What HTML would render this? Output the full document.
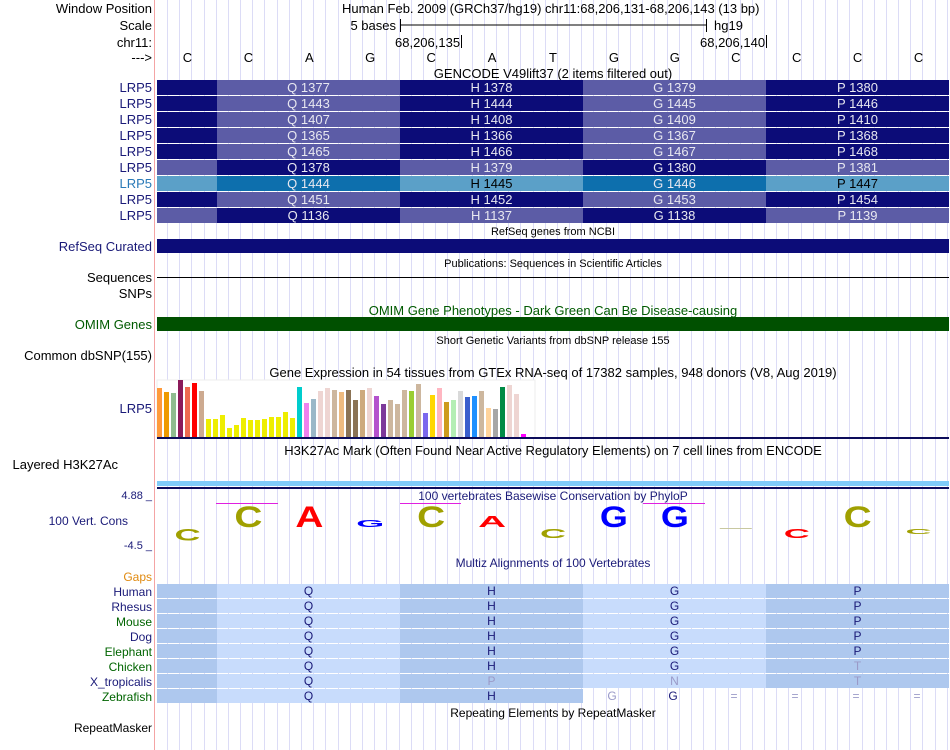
<!DOCTYPE html>
<html><head><meta charset="utf-8"><style>
body{margin:0;background:#fff;}
svg{display:block;font-family:"Liberation Sans",sans-serif;}
</style></head><body>
<svg id="s" width="950" height="750">
<g id="grid"></g>
<line x1="154.5" y1="0" x2="154.5" y2="750" stroke="#f4a4a4"/>
<g font-size="13" text-anchor="end" fill="#000">
<text x="152" y="13">Window Position</text>
<text x="152" y="30">Scale</text>
<text x="152" y="47">chr11:</text>
<text x="152" y="62">---&gt;</text>
<text x="152" y="251" fill="#1a1a78">RefSeq Curated</text>
<text x="152" y="282">Sequences</text>
<text x="152" y="298">SNPs</text>
<text x="152" y="329" fill="#005a00">OMIM Genes</text>
<text x="152" y="360">Common dbSNP(155)</text>
<text x="152" y="413" fill="#1a1a78">LRP5</text>
<text x="118" y="469">Layered H3K27Ac</text>
<text x="128" y="525" fill="#1a1a78" font-size="12">100 Vert. Cons</text>
<text x="152" y="499" fill="#1a1a78" font-size="11">4.88 _</text>
<text x="152" y="549" fill="#1a1a78" font-size="11">-4.5 _</text>
<text x="152" y="581" fill="#e08a10" font-size="12">Gaps</text>
<text x="152" y="732" font-size="12">RepeatMasker</text>
</g>
<g font-size="13" fill="#000">
<text x="342" y="13">Human Feb. 2009 (GRCh37/hg19)   chr11:68,206,131-68,206,143 (13 bp)</text>
<text x="396" y="30" text-anchor="end">5 bases</text>
<line x1="400" y1="25" x2="706" y2="25" stroke="#000"/>
<line x1="400.5" y1="19" x2="400.5" y2="32" stroke="#000"/>
<line x1="706.5" y1="19" x2="706.5" y2="32" stroke="#000"/>
<text x="714" y="30">hg19</text>
<text x="395" y="47">68,206,135</text>
<line x1="461.5" y1="35" x2="461.5" y2="48" stroke="#000"/>
<text x="700" y="47">68,206,140</text>
<line x1="766.5" y1="35" x2="766.5" y2="48" stroke="#000"/>
</g>
<g id="bases" font-size="13" text-anchor="middle"></g>
<g font-size="11" text-anchor="middle">
<text x="553" y="78" font-size="13">GENCODE V49lift37 (2 items filtered out)</text>
<text x="553" y="235">RefSeq genes from NCBI</text>
<text x="553" y="267">Publications: Sequences in Scientific Articles</text>
<text x="553" y="315" font-size="13" fill="#005a00">OMIM Gene Phenotypes - Dark Green Can Be Disease-causing</text>
<text x="553" y="344">Short Genetic Variants from dbSNP release 155</text>
<text x="553" y="377" font-size="13">Gene Expression in 54 tissues from GTEx RNA-seq of 17382 samples, 948 donors (V8, Aug 2019)</text>
<text x="553" y="455" font-size="13">H3K27Ac Mark (Often Found Near Active Regulatory Elements) on 7 cell lines from ENCODE</text>
<text x="553" y="500" font-size="12" fill="#1a1a78">100 vertebrates Basewise Conservation by PhyloP</text>
<text x="553" y="567" font-size="12" fill="#1a1a78">Multiz Alignments of 100 Vertebrates</text>
<text x="553" y="717" font-size="12">Repeating Elements by RepeatMasker</text>
</g>
<g id="gencode"></g>
<rect x="157" y="239" width="792" height="14" fill="#0c0c78"/>
<line x1="157" y1="277.5" x2="949" y2="277.5" stroke="#000"/>
<rect x="157" y="317" width="792" height="14" fill="#005000"/>
<rect x="157" y="380" width="378" height="58" fill="#fff" stroke="#eee"/>
<g id="gtex"></g>
<rect x="157" y="437" width="792" height="2" fill="#0c0c5a"/>
<rect x="157" y="481" width="792" height="5" fill="#80ccf8"/>
<rect x="157" y="487" width="792" height="2" fill="#0c0c5a"/>
<g stroke="#e020e0">
<line x1="216" y1="503.5" x2="278" y2="503.5"/><line x1="400" y1="503.5" x2="461" y2="503.5"/><line x1="643" y1="503.5" x2="705" y2="503.5"/>
</g>
<g id="logo" font-weight="bold" text-anchor="middle"></g>
<g id="multiz" font-size="12" text-anchor="middle"></g>
</svg>
<script>
const NS='http://www.w3.org/2000/svg';
const X0=157,W=792,NB=13,BW=W/NB;
const cx=i=>X0+(i+0.5)*BW;
function el(tag,attrs,parent,txt){const e=document.createElementNS(NS,tag);for(const k in attrs)e.setAttribute(k,attrs[k]);if(txt!==undefined)e.textContent=txt;parent.appendChild(e);return e;}
const grid=document.getElementById('grid');
for(let x=167;x<950;x+=12.185){const l=el('line',{x1:Math.round(x)+.5,x2:Math.round(x)+.5,y1:0,y2:750,stroke:'#dcdcf6'},grid);

}
const bases=['C','C','A','G','C','A','T','G','G','C','C','C','C'];
const bg=document.getElementById('bases');
bases.forEach((b,i)=>{const t=el('text',{x:cx(i),y:62},bg,b);

});
const blocks=[[157,217],[217,400],[400,583],[583,766],[766,949]];
const aa=['Q','H','G','P'];
const nums=[[1377,1378,1379,1380],[1443,1444,1445,1446],[1407,1408,1409,1410],[1365,1366,1367,1368],[1465,1466,1467,1468],[1378,1379,1380,1381],[1444,1445,1446,1447],[1451,1452,1453,1454],[1136,1137,1138,1139]];
const phase=[0,0,0,0,0,1,1,0,1];
const gc=document.getElementById('gencode');
nums.forEach((row,r)=>{const y=80+r*16;const hl=r===6;
const lab=el('text',{x:152,y:y+12,'text-anchor':'end','font-size':13,fill:hl?'#2a7ab8':'#1a1a78'},gc,'LRP5');


blocks.forEach((b,k)=>{const dark=((k+phase[r])%2===0);
const fill=hl?(dark?'#0d6fad':'#5ba0c8'):(dark?'#0c0c78':'#5c5ca6');
const rc=el('rect',{x:b[0],y:y,width:b[1]-b[0],height:15,fill:fill},gc);


if(k>0){const t=el('text',{x:(b[0]+b[1])/2,y:y+12,'text-anchor':'middle','font-size':13,fill:(hl&&!dark)?'#000':'#e8e8f0'},gc,aa[k-1]+' '+row[k-1]);

}});});
const gtexValues=[49,45,44,57,50,54,46,18,18,22,9,12,19,17,17,18,20,20,25,19,50,34,38,46,49,47,45,47,37,47,49,41,33,37,33,47,46,53,24,42,49,35,37,46,40,41,46,29,28,50,52,43,3];
const gtexColors=['#ff9a3c','#ee9a00','#8fbc8f','#8b1a5a','#ee6a50','#ff0000','#cdaa90','#eeee00','#eeee00','#eeee00','#eeee00','#eeee00','#eeee00','#eeee00','#eeee00','#eeee00','#eeee00','#eeee00','#eeee00','#eeee00','#00cdcd','#ee82ee','#9ab8c8','#eed5d2','#eed5d2','#cdb79e','#eebb80','#8b7355','#8b7355','#cdaa7d','#eed5d2','#b452cd','#7d3a9a','#cdb79e','#cdb79e','#cdb79e','#9acd32','#cdb79e','#7b68ee','#ffd700','#ffb6c1','#cd9b1d','#b4eeb4','#d9d9d9','#3a5fcd','#1e90ff','#cdb79e','#ffd39b','#a6a6a6','#008b45','#eed5d2','#eed5d2','#ff00ff'];
const gt=document.getElementById('gtex');const base=437,gscale=1.0;
gtexValues.forEach((v,i)=>{const h=v*gscale;const r=el('rect',{x:157+i*7,y:base-h,width:5,height:h,fill:gtexColors[i]},gt);

});
const logoLetters=['C','C','A','G','C','A','C','G','G','C','C','C','C'];
const logoHeights=[-12,21,21,7,21,11,-9,21,21,-1,-9,21,-5];
const logoColors=['#a0a000','#a0a000','#ff0000','#0000ff','#a0a000','#ff0000','#a0a000','#0000ff','#0000ff','#a0a000','#ff0000','#a0a000','#a0a000'];
const lg=document.getElementById('logo');const zero=527;
logoLetters.forEach((L,i)=>{const h=Math.abs(logoHeights[i]);if(h<1.5){const ln=el('rect',{x:cx(i)-16,y:zero+1,width:32,height:1,fill:'#c8c8a0'},lg);

return;}
const sy=h/21.5;const up=logoHeights[i]>0;
const tr=up?('translate('+cx(i)+','+zero+') scale(1,'+sy+')'):('translate('+cx(i)+','+(zero+2)+') scale(1,'+(-sy)+')');
const t=el('text',{x:0,y:0,'font-size':30,fill:logoColors[i],textLength:up?28:26,lengthAdjust:'spacingAndGlyphs',transform:tr},lg,L);

});
const multizSpecies=['Human','Rhesus','Mouse','Dog','Elephant','Chicken','X_tropicalis','Zebrafish'];
const speciesColors=['#1a1a78','#1a1a78','#006400','#1a1a78','#006400','#006400','#1a1a78','#006400'];
const speciesAA=[['Q','H','G','P'],['Q','H','G','P'],['Q','H','G','P'],['Q','H','G','P'],['Q','H','G','P'],['Q','H','G','T'],['Q','P','N','T'],['Q','H','G','']];
const mz=document.getElementById('multiz');
multizSpecies.forEach((s,r)=>{const y=584+r*15;
const lab=el('text',{x:152,y:y+12,'text-anchor':'end',fill:speciesColors[r]},mz,s);


blocks.forEach((b,k)=>{if(r===7&&k>2)return;const dark=k%2===0;
const rc=el('rect',{x:b[0],y:y,width:b[1]-b[0],height:14,fill:dark?'#aec8ee':'#c8dcfc'},mz);


if(k>0&&speciesAA[r][k-1]){const a=speciesAA[r][k-1];const diff=a!==speciesAA[0][k-1];
const t=el('text',{x:(b[0]+b[1])/2,y:y+11,fill:diff?'#9a9ac8':'#1a1a78'},mz,a);

}});});
const zt=[[612,'G','#9a9ac8'],[673,'G','#1a1a78'],[734,'=','#9a9ac8'],[795,'=','#9a9ac8'],[856,'=','#9a9ac8'],[917,'=','#9a9ac8']];
zt.forEach(z=>{const t=el('text',{x:z[0],y:584+7*15+11,fill:z[2]},mz,z[1]);

});
</script>
</body></html>
